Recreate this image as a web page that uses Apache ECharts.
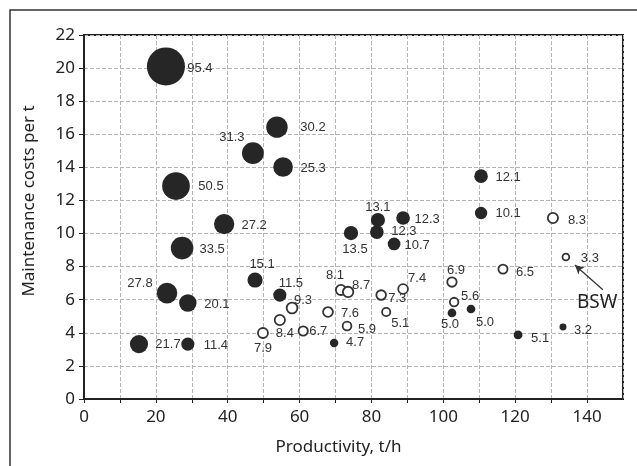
<!DOCTYPE html>
<html><head><meta charset="utf-8">
<script src="https://cdn.jsdelivr.net/npm/echarts@6/dist/echarts.min.js"></script>
<style>html,body{margin:0;padding:0;background:#fff}#c{width:637px;height:466px}</style>
</head><body><div id="c"></div>
<script>
// Filled (dark) points: productivity t/h, maintenance cost per t, labelled value
var filledX = [22.8, 47.0, 53.7, 55.4, 25.6, 39.0, 27.3, 23.1, 28.9, 15.3, 28.9, 47.6, 54.5, 74.3, 81.8, 81.5, 88.8, 86.3, 110.5, 110.5, 69.6, 102.4, 107.7, 120.8, 133.3];
var filledY = [20.1, 14.86, 16.43, 14.02, 12.87, 10.57, 9.12, 6.40, 5.80, 3.32, 3.32, 7.19, 6.28, 10.03, 10.82, 10.09, 10.94, 9.37, 13.47, 11.24, 3.38, 5.20, 5.44, 3.87, 4.35];
var filledV = [95.4, 31.3, 30.2, 25.3, 50.5, 27.2, 33.5, 27.8, 20.1, 21.7, 11.4, 15.1, 11.5, 13.5, 13.1, 12.3, 12.3, 10.7, 12.1, 10.1, 4.7, 5.0, 5.0, 5.1, 3.2];
// Open points
var openX = [130.5, 134.1, 116.6, 102.4, 103.0, 88.8, 82.7, 84.1, 71.5, 73.5, 67.9, 73.2, 61.0, 57.9, 54.5, 49.8];
var openY = [10.94, 8.58, 7.85, 7.07, 5.86, 6.65, 6.28, 5.26, 6.59, 6.47, 5.26, 4.41, 4.11, 5.50, 4.77, 3.99];
var openV = [8.3, 3.3, 6.5, 6.9, 5.6, 7.4, 7.3, 5.1, 8.1, 8.7, 7.6, 5.9, 6.7, 9.3, 8.4, 7.9];
// Axis ticks
var xTicks = [0, 20, 40, 60, 80, 100, 120, 140];
var yTicks = [0, 2, 4, 6, 8, 10, 12, 14, 16, 18, 20, 22];

// label offsets (styling, px)
var filledLabelOff = [[34,2],[-21,-16],[36,0],[30,1],[35,0],[30,1],[30,1],[-27,-10],[29,1],[29,0],[28,1],[7,-16],[11,-12],[4,16],[0,-13],[27,-1],[24,1],[23,1],[27,1],[27,0],[21,-1],[-2,11],[14,13],[22,3],[20,3]];
var openLabelOff = [[24,2],[24,1],[22,3],[4,-12],[16,-6],[14,-11],[16,3],[14,11],[-6,-15],[13,-7],[22,1],[20,3],[15,0],[11,-8],[5,13],[0,15]];

function build(xs, ys, vs, offs) {
  return xs.map(function (x, i) {
    return { value: [x, ys[i], vs[i]], label: { offset: offs[i] } };
  });
}
function lbl() {
  return {
    show: true, position: 'inside', align: 'center', verticalAlign: 'middle',
    fontFamily: 'Liberation Sans', fontSize: 13, color: '#333', textBorderWidth: 0,
    formatter: function (p) { return p.value[2].toFixed(1); }
  };
}
var chart = echarts.init(document.getElementById('c'), null, { renderer: 'canvas' });
var axisFont = { fontFamily: 'Noto Sans', fontSize: 17, color: '#222' };
chart.setOption({
  animation: false,
  backgroundColor: '#fff',
  grid: { left: 84, right: 14, top: 35, bottom: 67, show: true, borderColor: '#222', borderWidth: 2 },
  graphic: [{ type: 'rect', shape: { x: 10, y: 10, width: 700, height: 500 }, style: { fill: 'none', stroke: '#333', lineWidth: 1.5 }, z: 100, silent: true }],
  xAxis: {
    type: 'value', min: 0, max: 150, interval: 10,
    name: 'Productivity, t/h', nameLocation: 'middle', nameGap: 40,
    nameTextStyle: { fontFamily: 'Noto Sans', fontSize: 17, color: '#222', padding: [0, 30, 0, 0] },
    axisLine: { show: true, lineStyle: { color: '#222', width: 2 } },
    axisTick: { show: true, length: 4, lineStyle: { color: '#222' } },
    axisLabel: Object.assign({ margin: 10, showMaxLabel: false, formatter: function (v) { return xTicks.indexOf(v) >= 0 ? String(v) : ''; } }, axisFont),
    splitLine: { show: true, lineStyle: { color: '#b4b4b4', type: [4, 2], width: 1 } }
  },
  yAxis: {
    type: 'value', min: 0, max: 22, interval: 2,
    name: 'Maintenance costs per t', nameLocation: 'middle', nameGap: 46,
    nameTextStyle: { fontFamily: 'Noto Sans', fontSize: 17, color: '#222', padding: [0, 0, 0, 32] },
    axisLine: { show: true, lineStyle: { color: '#222', width: 2 } },
    axisTick: { show: true, length: 5, lineStyle: { color: '#222' } },
    axisLabel: Object.assign({ margin: 9, formatter: function (v) { return yTicks.indexOf(v) >= 0 ? String(v) : ''; } }, axisFont),
    splitLine: { show: true, lineStyle: { color: '#b4b4b4', type: [4, 2], width: 1 } }
  },
  series: [
    {
      type: 'scatter', name: 'filled',
      data: build(filledX, filledY, filledV, filledLabelOff),
      symbol: 'circle',
      symbolSize: function (v) { return 3.9 * Math.sqrt(v[2]); },
      itemStyle: { color: '#262626', opacity: 1 },
      label: lbl(), z: 3
    },
    {
      type: 'scatter', name: 'open',
      data: build(openX, openY, openV, openLabelOff),
      symbol: 'circle',
      symbolSize: function (v) { return 3.2 * Math.sqrt(v[2]) + 1; },
      itemStyle: { color: '#fff', borderColor: '#333', borderWidth: 1.8, opacity: 1 },
      label: lbl(), z: 3,
      markLine: {
        silent: true, symbol: ['none', 'arrow'], symbolSize: [7, 9],
        lineStyle: { color: '#333', width: 1.3, type: 'solid' },
        label: { show: false },
        data: [[{ coord: [144.4, 6.6] }, { coord: [136.6, 8.1] }]]
      },
      markPoint: {
        silent: true, symbol: 'circle', symbolSize: 1,
        itemStyle: { color: 'rgba(0,0,0,0)' },
        label: { show: true, position: 'inside', formatter: 'BSW', fontFamily: 'Noto Sans', fontSize: 19, color: '#222' },
        data: [{ coord: [142.8, 5.8] }]
      }
    }
  ]
});
</script></body></html>
